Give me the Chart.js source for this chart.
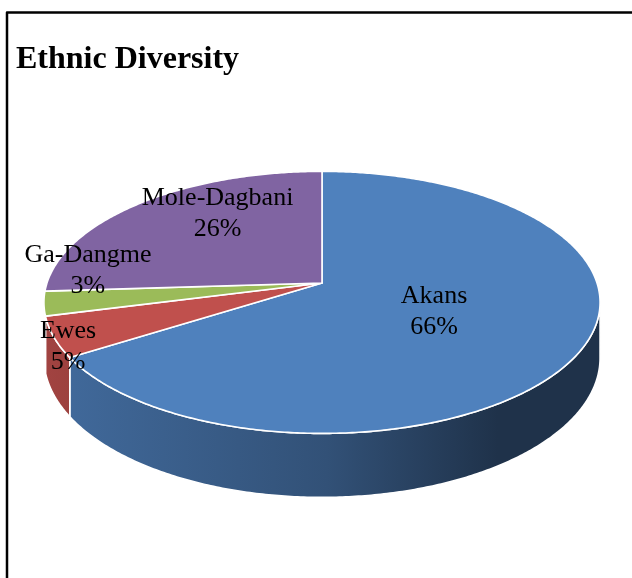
<!DOCTYPE html>
<html>
<head>
<meta charset="utf-8">
<title>Ethnic Diversity</title>
<script src="https://cdn.jsdelivr.net/npm/chart.js@4.4.1/dist/chart.umd.min.js"></script>
<style>
  html, body { margin: 0; padding: 0; background: #fff; }
  #wrap { position: relative; width: 632px; height: 578px; }
</style>
</head>
<body>
<div id="wrap"><canvas id="ethnicPie" width="632" height="578"></canvas></div>
<script>
// ---- data ---------------------------------------------------------------
const TITLE   = "Ethnic Diversity";
const groups  = ["Akans", "Ewes", "Ga-Dangme", "Mole-Dagbani"];
const shares  = [66, 5, 3, 26];
const colours = ["#4F81BD", "#C0504D", "#9BBB59", "#8064A2"];

// label placement: fraction of radius along the mid angle + pixel nudge
const labelRadius = [0.45, 0.95, 1.0, 0.55];
const labelNudgeX = [0, 0, 44, 0];
const labelNudgeY = [0, 12, -33, -24];

// ---- 3d look --------------------------------------------------------------
const TILT   = 0.466;   // vertical squash of the top face
const PERSP  = 0.148;   // front grows, back shrinks
const DEPTH  = 54.5;    // thickness of the disc
const SERIF  = "'Liberation Serif', 'Times New Roman', serif";

function rgb(hex, k) {
  const n = parseInt(hex.slice(1), 16);
  const r = Math.round(((n >> 16) & 255) * k);
  const g = Math.round(((n >> 8) & 255) * k);
  const b = Math.round((n & 255) * k);
  return `rgb(${r},${g},${b})`;
}

// map an angle on the disc (chart.js convention) to screen space
function project(cx, cy, R, a, drop, r = 1) {
  const X = Math.cos(a) * r, Z = Math.sin(a) * r;
  const w = 1 - PERSP * Z;
  return { x: cx + R * X / w, y: cy + (R * TILT * Z + DEPTH * drop) / w };
}

function rim(ctx, cx, cy, R, a0, a1, drop, first) {
  const steps = Math.max(2, Math.ceil(Math.abs(a1 - a0) / 0.01));
  for (let i = 0; i <= steps; i++) {
    const p = project(cx, cy, R, a0 + (a1 - a0) * i / steps, drop);
    if (i === 0 && first) ctx.moveTo(p.x, p.y); else ctx.lineTo(p.x, p.y);
  }
}

const pie3d = {
  id: "pie3d",
  beforeDatasetsDraw() { return false; },   // we paint the arcs ourselves
  afterDraw(chart) {
    const ctx = chart.ctx;
    const arcs = chart.getDatasetMeta(0).data;
    const { x: cx, y: cy, outerRadius: R } = arcs[0].getProps(["x", "y", "outerRadius"], true);

    ctx.save();
    ctx.lineJoin = "round";
    ctx.strokeStyle = "#fff";
    ctx.lineWidth = 1.6;

    // side wall, only the part facing the viewer
    const vis0 = Math.asin(PERSP), vis1 = Math.PI - Math.asin(PERSP);
    arcs.forEach((arc, i) => {
      const { startAngle, endAngle } = arc.getProps(["startAngle", "endAngle"], true);
      const a0 = Math.max(startAngle, vis0), a1 = Math.min(endAngle, vis1);
      if (a1 <= a0) return;
      const grad = ctx.createLinearGradient(cx - R, 0, cx + R, 0);
      grad.addColorStop(0.0, rgb(colours[i], 0.84));
      grad.addColorStop(0.05, rgb(colours[i], 0.81));
      grad.addColorStop(0.51, rgb(colours[i], 0.63));
      grad.addColorStop(0.82, rgb(colours[i], 0.39));
      grad.addColorStop(1.0, rgb(colours[i], 0.39));
      ctx.beginPath();
      rim(ctx, cx, cy, R, a0, a1, 0, true);
      rim(ctx, cx, cy, R, a1, a0, 1, false);
      ctx.closePath();
      ctx.fillStyle = grad;
      ctx.fill();
      ctx.stroke();
    });

    // top face
    arcs.forEach((arc, i) => {
      const { startAngle, endAngle } = arc.getProps(["startAngle", "endAngle"], true);
      ctx.beginPath();
      ctx.moveTo(cx, cy);
      rim(ctx, cx, cy, R, startAngle, endAngle, 0, false);
      ctx.closePath();
      ctx.fillStyle = colours[i];
      ctx.fill();
      ctx.stroke();
    });

    // data labels
    const total = shares.reduce((s, v) => s + v, 0);
    ctx.fillStyle = "#000";
    ctx.font = `26px ${SERIF}`;
    ctx.textAlign = "center";
    ctx.textBaseline = "middle";
    arcs.forEach((arc, i) => {
      const { startAngle, endAngle } = arc.getProps(["startAngle", "endAngle"], true);
      const p = project(cx, cy, R, (startAngle + endAngle) / 2, 0, labelRadius[i]);
      const x = p.x + labelNudgeX[i], y = p.y + labelNudgeY[i];
      ctx.fillText(groups[i], x, y - 15.5);
      ctx.fillText(Math.round(shares[i] / total * 100) + "%", x, y + 15.5);
    });

    // title and frame
    ctx.font = `bold 32px ${SERIF}`;
    ctx.textAlign = "left";
    ctx.textBaseline = "alphabetic";
    ctx.fillText(TITLE, 16, 68);

    ctx.strokeStyle = "#000";
    ctx.lineWidth = 2.5;
    ctx.beginPath();
    ctx.moveTo(7, 578);
    ctx.lineTo(7, 12.5);
    ctx.lineTo(632, 12.5);
    ctx.stroke();
    ctx.restore();
  }
};

new Chart(document.getElementById("ethnicPie"), {
  type: "pie",
  data: {
    labels: groups,
    datasets: [{ data: shares, backgroundColor: colours, borderColor: "#fff" }]
  },
  options: {
    responsive: false,
    animation: false,
    layout: { padding: { left: 46, right: 34, top: 7, bottom: 19 } },
    plugins: {
      legend: { display: false },
      title: { display: false },
      tooltip: { enabled: false }
    }
  },
  plugins: [pie3d]
});
</script>
</body>
</html>
